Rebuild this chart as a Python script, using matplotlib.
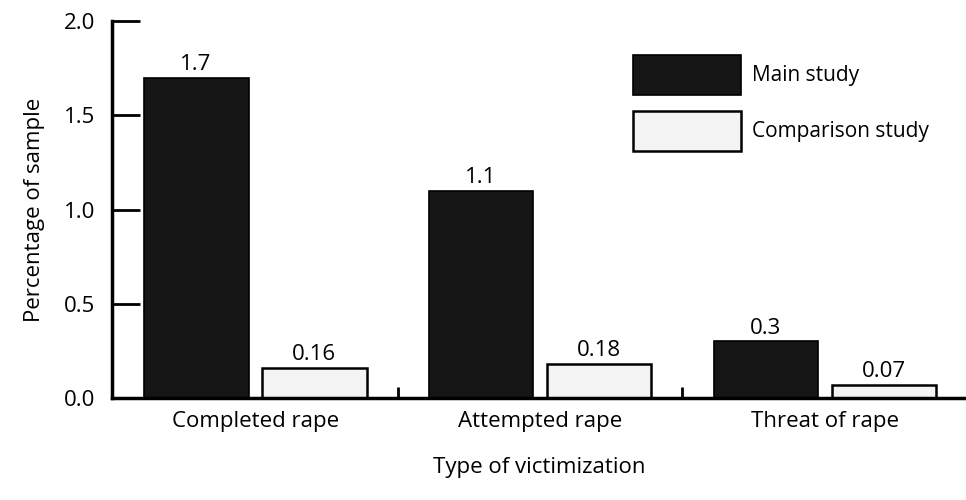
import numpy as np
import matplotlib.pyplot as plt
from matplotlib.ticker import FixedLocator

plt.rcParams['font.family'] = ['Open Sans', 'DejaVu Sans']

categories = ['Completed rape', 'Attempted rape', 'Threat of rape']
main_study = [1.7, 1.1, 0.3]
comparison_study = [0.16, 0.18, 0.07]
main_labels = ['1.7', '1.1', '0.3']
comp_labels = ['0.16', '0.18', '0.07']

x = np.arange(len(categories))
w = 0.368
off = 0.207

fig = plt.figure(figsize=(9.66, 5.0), dpi=100)
ax = fig.add_axes([0.116, 0.204, 0.884, 0.754])

ax.bar(x - off, main_study, w, color='#161616', edgecolor='black',
       linewidth=1.2, label='Main study')
ax.bar(x + off, comparison_study, w, color='#f3f3f3', edgecolor='black',
       linewidth=1.8, label='Comparison study')

for xi, v, t in zip(x - off, main_study, main_labels):
    ax.text(xi, v + 0.015, t, ha='center', va='bottom', fontsize=16)
for xi, v, t in zip(x + off, comparison_study, comp_labels):
    ax.text(xi, v + 0.015, t, ha='center', va='bottom', fontsize=16)

ax.set_xlim(-0.502, 2.495)
ax.set_ylim(0, 2.0)
ax.set_yticks([0.0, 0.5, 1.0, 1.5, 2.0])
ax.set_yticklabels(['0.0', '0.5', '1.0', '1.5', '2.0'], fontsize=16)
ax.tick_params(axis='y', direction='in', length=20, width=2, pad=12)

ax.set_xticks(x)
ax.set_xticklabels(categories, fontsize=16)
ax.tick_params(axis='x', length=0, pad=9)
ax.xaxis.set_minor_locator(FixedLocator([0.5, 1.5]))
ax.tick_params(axis='x', which='minor', direction='in', length=8, width=2)

ax.spines['top'].set_visible(False)
ax.spines['right'].set_visible(False)
ax.spines['left'].set_linewidth(2.5)
ax.spines['bottom'].set_linewidth(2.5)

ax.set_ylabel('Percentage of sample', fontsize=16, labelpad=14)
ax.set_xlabel('Type of victimization', fontsize=16, labelpad=18)

ax.legend(loc='upper left', bbox_to_anchor=(0.61, 0.91), frameon=False,
          fontsize=15, handlelength=5.2, handleheight=2.6, labelspacing=0.75,
          handletextpad=0.5, borderaxespad=0, borderpad=0)

fig.savefig('out.png', dpi=100)
